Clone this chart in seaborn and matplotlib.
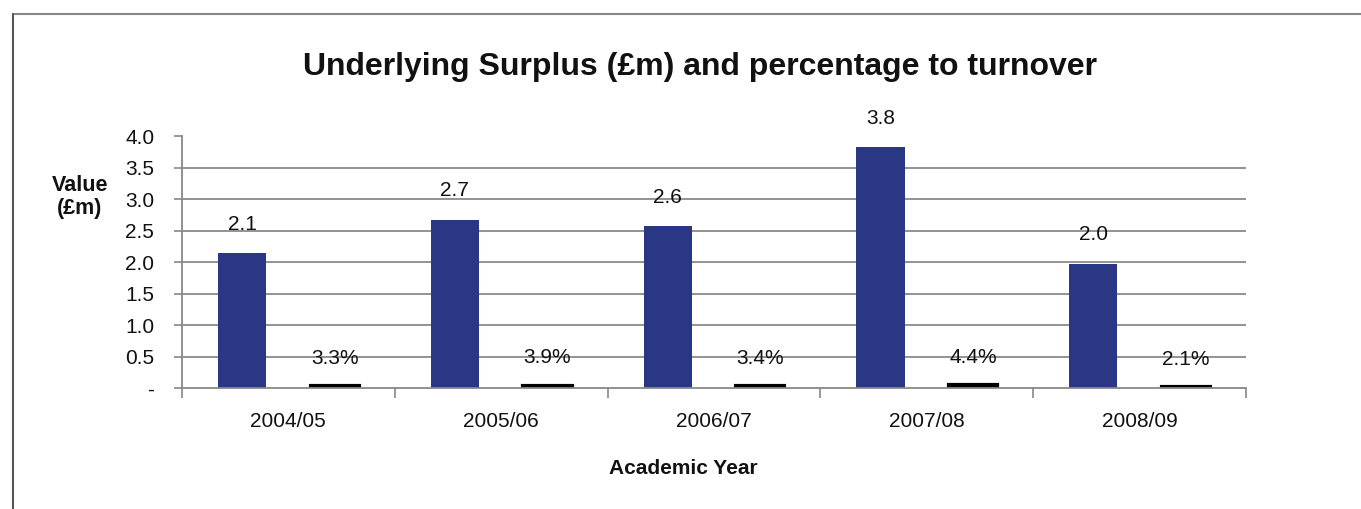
import numpy as np
import pandas as pd
import matplotlib
matplotlib.use("Agg")
import matplotlib.pyplot as plt
from matplotlib.lines import Line2D
import seaborn as sns

years = ["2004/05", "2005/06", "2006/07", "2007/08", "2008/09"]
surplus = [2.14, 2.67, 2.57, 3.82, 1.97]          # £m
pct_turnover = [3.3, 3.9, 3.4, 4.4, 2.1]          # %
y_ticks = [0, 0.5, 1.0, 1.5, 2.0, 2.5, 3.0, 3.5, 4.0]
y_tick_labels = ["-", "0.5", "1.0", "1.5", "2.0", "2.5", "3.0", "3.5", "4.0"]

sns.set_theme(style="white")
plt.rcParams["font.family"] = ["Liberation Sans", "DejaVu Sans"]

df = pd.DataFrame({
    "year": years * 2,
    "value": surplus + [p / 100 for p in pct_turnover],
    "series": ["Surplus"] * len(years) + ["Percent"] * len(years),
})

fig = plt.figure(figsize=(13.61, 5.09), dpi=100)
ax = fig.add_axes([0.1337, 0.2377, 0.9155 - 0.1337, 0.7328 - 0.2377])

navy = "#2a3784"
sns.barplot(data=df, x="year", y="value", hue="series", order=years,
            hue_order=["Surplus", "Percent"], palette=[navy, "#000000"],
            width=0.87, gap=0.48, legend=False, ax=ax, linewidth=0,
            saturation=1)

for p in ax.containers[1]:
    p.set_edgecolor("black")
    p.set_linewidth(3.0)

for p, v in zip(ax.containers[0], surplus):
    ax.annotate(f"{v:.1f}", (p.get_x() + p.get_width() / 2, p.get_height()),
                xytext=(0, 14), textcoords="offset points", ha="center",
                va="bottom", fontsize=15, color="#111111")
for p, v in zip(ax.containers[1], pct_turnover):
    ax.annotate(f"{v:.1f}%", (p.get_x() + p.get_width() / 2, p.get_height()),
                xytext=(0, 13), textcoords="offset points", ha="center",
                va="bottom", fontsize=15, color="#111111")

ax.set_ylim(0, 4.0)
ax.set_xlim(-0.5, len(years) - 0.5)
ax.set_yticks(y_ticks)
ax.set_yticklabels(y_tick_labels, fontsize=15, color="#111111")
ax.set_xticks(range(len(years)))
ax.set_xticklabels(years, fontsize=15, color="#111111")
ax.set_xticks(np.arange(-0.5, len(years)), minor=True)
ax.tick_params(axis="x", which="major", length=0, pad=17)
ax.tick_params(axis="x", which="minor", length=7, width=1.2, color="#888888",
               direction="out", bottom=True)
ax.tick_params(axis="y", length=6, width=1.2, color="#888888", left=True,
               direction="out", pad=14)

for yv in y_ticks[1:-1]:
    ax.axhline(yv, color="#8a8a8a", linewidth=1.3, zorder=0)

for s in ["top", "right"]:
    ax.spines[s].set_visible(False)
for s in ["left", "bottom"]:
    ax.spines[s].set_color("#888888")
    ax.spines[s].set_linewidth(1.3)

ax.set_xlabel("")
ax.set_ylabel("")

fig.text(0.514, 1 - 67 / 509, "Underlying Surplus (£m) and percentage to turnover",
         ha="center", va="center", fontsize=23, fontweight="bold", color="#111111")
fig.text(80 / 1361, 1 - 197 / 509, "Value\n(£m)", ha="center", va="center",
         fontsize=15.5, fontweight="bold", color="#111111", linespacing=1.15)
fig.text(683 / 1361, 1 - 468 / 509, "Academic Year", ha="center", va="center",
         fontsize=15, fontweight="bold", color="#111111")

# outer frame
fig.add_artist(Line2D([13 / 1361, 1.0], [1 - 14 / 509, 1 - 14 / 509],
                      transform=fig.transFigure, color="#888888", linewidth=1.5))
fig.add_artist(Line2D([13 / 1361, 13 / 1361], [0.0, 1 - 14 / 509],
                      transform=fig.transFigure, color="#555555", linewidth=1.5))

fig.savefig("out.png", dpi=100)
